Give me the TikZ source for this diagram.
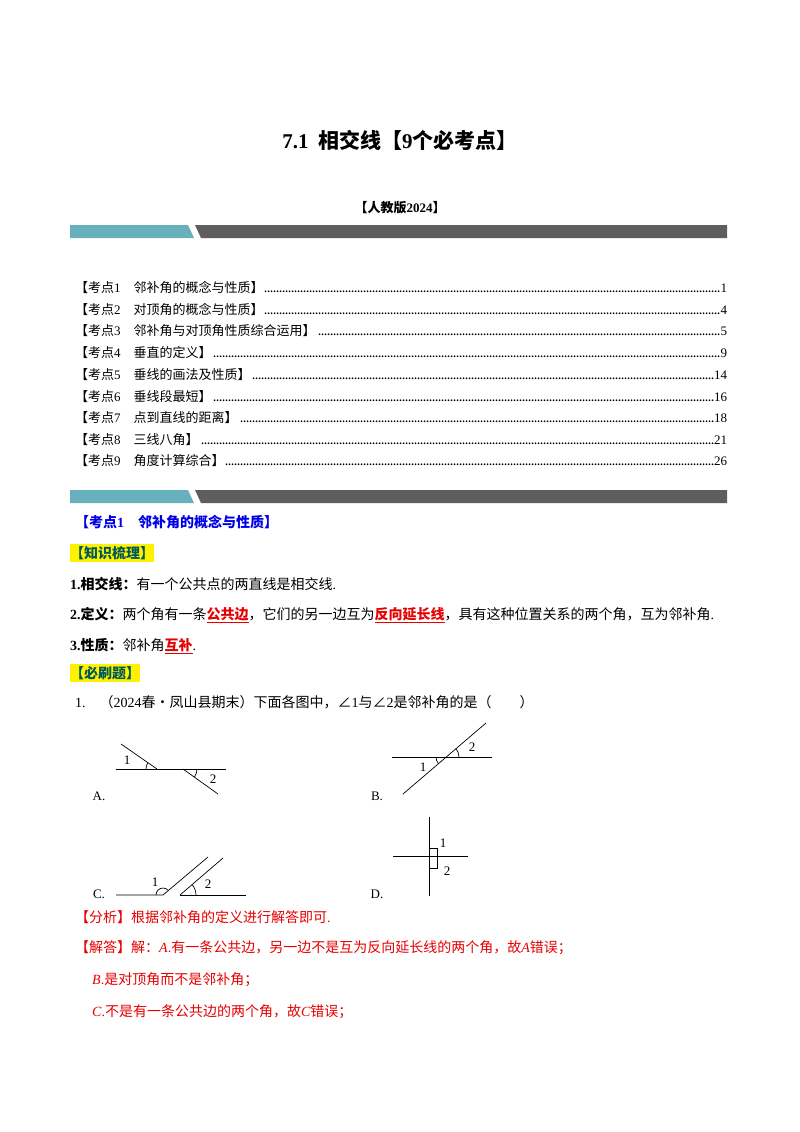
\documentclass[tikz,border=0pt]{standalone}
\usepackage{fontspec}
\setmainfont{Noto Sans CJK SC}
\newfontfamily\tm{Liberation Serif}
\definecolor{teal1}{RGB}{104,176,188}
\definecolor{dk}{RGB}{94,94,94}
\definecolor{rd}{RGB}{230,0,0}
\definecolor{bl}{RGB}{0,0,230}
\newcommand{\dleader}{\leaders\hbox to 3pt{\hss.\hss}\hfill}
\tikzset{txt/.style={anchor=west,inner sep=0pt,font=\fontsize{14}{16}\selectfont},
 toc/.style={txt,font=\fontsize{13}{15}\selectfont},
 fig/.style={line width=0.7pt},
 lab/.style={inner sep=0pt,font=\tm\fontsize{13}{15}\selectfont}}
\newcommand{\tocline}[4]{\node[toc] (#1) at (75,#2) {\makebox[652pt][l]{#3\dleader{\tm #4}}};}
\begin{document}
\begin{tikzpicture}[x=1pt,y=-1pt]
\useasboundingbox[fill=white] (0,0) rectangle (800,1132);
\node[inner sep=0pt,font=\bfseries\fontsize{21}{24}\selectfont] (title) at (400,140) {{\tm 7.1}\ \ 相交线【{\tm 9}个必考点】};
\node[inner sep=0pt,font=\bfseries\fontsize{13}{15}\selectfont] (ver) at (400,208) {【人教版{\tm 2024}】};
% banners
\fill[teal1] (70,225) -- (188,225) -- (194,238) -- (70,238) -- cycle;
\fill[dk] (195,225) -- (727,225) -- (727,238) -- (201,238) -- cycle;
\fill[teal1] (70,490) -- (188,490) -- (194,503) -- (70,503) -- cycle;
\fill[dk] (195,490) -- (727,490) -- (727,503) -- (201,503) -- cycle;
% toc
\tocline{t1}{287}{【考点{\tm 1}\quad 邻补角的概念与性质】}{1}
\tocline{t2}{309}{【考点{\tm 2}\quad 对顶角的概念与性质】}{4}
\tocline{t3}{331}{【考点{\tm 3}\quad 邻补角与对顶角性质综合运用】}{5}
\tocline{t4}{353}{【考点{\tm 4}\quad 垂直的定义】}{9}
\tocline{t5}{375}{【考点{\tm 5}\quad 垂线的画法及性质】}{14}
\tocline{t6}{397}{【考点{\tm 6}\quad 垂线段最短】}{16}
\tocline{t7}{418}{【考点{\tm 7}\quad 点到直线的距离】}{18}
\tocline{t8}{440}{【考点{\tm 8}\quad 三线八角】}{21}
\tocline{t9}{461}{【考点{\tm 9}\quad 角度计算综合】}{26}
% section
\node[txt,text=bl,font=\bfseries\fontsize{14}{16}\selectfont] (sec) at (75,522) {【考点{\tm 1}\quad 邻补角的概念与性质】};
\node[txt,fill=yellow,inner ysep=2pt,text=teal!70!black,font=\bfseries\fontsize{14}{16}\selectfont] (zs) at (70,553) {【知识梳理】};
\node[txt] (l1) at (70,584) {{\tm\bfseries 1.}\textbf{相交线：}有一个公共点的两直线是相交线{\tm .}};
\node[txt] (l2) at (70,615) {{\tm\bfseries 2.}\textbf{定义：}两个角有一条\textcolor{rd}{\underline{\textbf{公共边}}}，它们的另一边互为\textcolor{rd}{\underline{\textbf{反向延长线}}}，具有这种位置关系的两个角，互为邻补角{\tm .}};
\node[txt] (l3) at (70,646) {{\tm\bfseries 3.}\textbf{性质：}邻补角\textcolor{rd}{\underline{\textbf{互补}}}{\tm .}};
\node[txt,fill=yellow,inner ysep=2pt,text=teal!70!black,font=\bfseries\fontsize{14}{16}\selectfont] (bs) at (70,673) {【必刷题】};
\node[txt] (q1) at (75,702) {{\tm 1.}\quad （{\tm 2024}春•凤山县期末）下面各图中，∠{\tm 1}与∠{\tm 2}是邻补角的是（\qquad ）};
% figure A
\draw[fig] (116,769) -- (226,769);
\draw[fig] (121,744) -- (157,769);
\draw[fig] (183,769) -- (218,794);
\draw[fig] (146,769) arc (180:215:11);
\draw[fig] (197,769) arc (0:35:14);
\node[lab] (a1) at (127,760) {1};
\node[lab] (a2) at (213,779) {2};
\node[lab] (aA) at (99,796) {A.};
% figure B
\draw[fig] (392,757) -- (492,757);
\draw[fig] (403,794) -- (486,723);
\draw[fig] (436,757) arc (180:140:10);
\draw[fig] (459,757) arc (0:-40:13);
\node[lab] (b1) at (423,767) {1};
\node[lab] (b2) at (472,747) {2};
\node[lab] (bB) at (377,796) {B.};
% figure C
\draw[fig] (116,895) -- (163,895) -- (208,857);
\draw[fig] (180,895) -- (246,895);
\draw[fig] (180,895) -- (223,858);
\draw[fig] (156,895) arc (180:320:7);
\draw[fig] (196,895) arc (0:-40:16);
\node[lab] (c1) at (155,882) {1};
\node[lab] (c2) at (208,884) {2};
\node[lab] (cC) at (99,894) {C.};
% figure D
\draw[fig] (429,817) -- (429,896);
\draw[fig] (393,856) -- (468,856);
\draw[fig] (429,848) -- (437,848) -- (437,868) -- (429,868);
\node[lab] (d1) at (443,843) {1};
\node[lab] (d2) at (447,871) {2};
\node[lab] (dD) at (377,894) {D.};
% analysis
\node[txt,text=rd] (fx) at (75,917) {【分析】根据邻补角的定义进行解答即可{\tm .}};
\node[txt,text=rd] (jd) at (75,948) {【解答】解：{\tm\itshape A}{\tm .}有一条公共边，另一边不是互为反向延长线的两个角，故{\tm\itshape A}错误；};
\node[txt,text=rd] (jb) at (92,980) {{\tm\itshape B}{\tm .}是对顶角而不是邻补角；};
\node[txt,text=rd] (jc) at (92,1012) {{\tm\itshape C}{\tm .}不是有一条公共边的两个角，故{\tm\itshape C}错误；};
\end{tikzpicture}
\end{document}
